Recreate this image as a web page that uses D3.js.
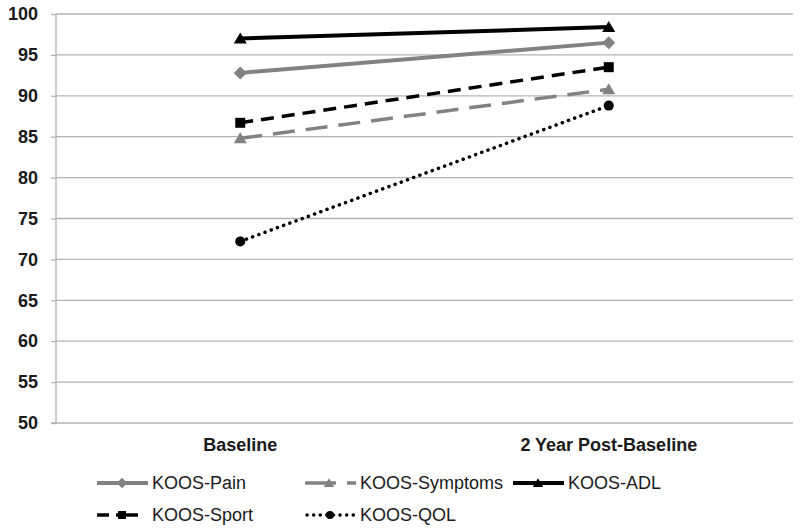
<!DOCTYPE html>
<html><head><meta charset="utf-8">
<script src="https://cdn.jsdelivr.net/npm/d3@7"></script>
<style>body{margin:0;background:#fff}svg{display:block}</style>
</head><body>
<svg id="c" width="800" height="529"></svg>
<script>
const categories = ["Baseline", "2 Year Post-Baseline"];
const seriesNames = ["KOOS-Pain", "KOOS-Symptoms", "KOOS-ADL", "KOOS-Sport", "KOOS-QOL"];
const painValues = [92.8, 96.5];
const symptomsValues = [84.8, 90.8];
const adlValues = [97.0, 98.4];
const sportValues = [86.7, 93.5];
const qolValues = [72.2, 88.8];
const yTicks = [50, 55, 60, 65, 70, 75, 80, 85, 90, 95, 100];

(function () {
const styles = {
  "KOOS-Pain": {color: "#828282", dash: null, width: 4, marker: "diamond", cap: "butt"},
  "KOOS-Symptoms": {color: "#828282", dash: "22,11", width: 3.5, marker: "triangle", cap: "butt"},
  "KOOS-ADL": {color: "#000", dash: null, width: 4, marker: "triangle", cap: "butt"},
  "KOOS-Sport": {color: "#000", dash: "13,8", width: 3.5, marker: "square", cap: "butt"},
  "KOOS-QOL": {color: "#000", dash: "0.1,6.5", width: 3.5, marker: "circle", cap: "round"}
};
const seriesData = {
  "KOOS-Pain": painValues, "KOOS-Symptoms": symptomsValues, "KOOS-ADL": adlValues,
  "KOOS-Sport": sportValues, "KOOS-QOL": qolValues
};
const font = "Liberation Sans, Arial, sans-serif";

const svg = d3.select("#c");
const pLeft = 56, pRight = 793, pTop = 14, pBottom = 423;
const x = d3.scaleBand().domain(categories).range([pLeft, pRight]);
const y = d3.scaleLinear().domain([50, 100]).range([pBottom, pTop]);

svg.append("g").selectAll("line").data(yTicks).join("line")
  .attr("x1", pLeft).attr("x2", pRight)
  .attr("y1", d => y(d)).attr("y2", d => y(d))
  .attr("stroke", "#b3b3b3").attr("stroke-width", 1.3);

const yAxis = d3.axisLeft(y).tickValues(yTicks).tickSize(5).tickPadding(13);
const ga = svg.append("g").attr("transform", `translate(${pLeft},0)`).call(yAxis);
ga.select(".domain").attr("stroke", "#b3b3b3").attr("stroke-width", 1.3).attr("d", `M-5,${pBottom}H0V${pTop}`);
ga.selectAll(".tick line").attr("stroke", "#b3b3b3").attr("stroke-width", 1.3);
ga.selectAll(".tick text").attr("font-family", font)
  .attr("font-size", 18).attr("font-weight", "bold").attr("fill", "#1a1a1a");

const xAxis = d3.axisBottom(x).tickSize(0).tickPadding(15);
const gx = svg.append("g").attr("transform", `translate(0,${pBottom})`).call(xAxis);
gx.select(".domain").remove();
gx.selectAll(".tick text").attr("font-family", font)
  .attr("font-size", 18).attr("font-weight", "bold").attr("fill", "#1a1a1a");

function markerPath(type, k) {
  const p = d3.path();
  if (type === "diamond") {
    const r = 6.5 * k;
    p.moveTo(0, -r); p.lineTo(r, 0); p.lineTo(0, r); p.lineTo(-r, 0); p.closePath();
  } else if (type === "triangle") {
    const w = 6.5 * k, h = 11 * k;
    p.moveTo(0, -h * 0.55); p.lineTo(w, h * 0.45); p.lineTo(-w, h * 0.45); p.closePath();
  } else if (type === "square") {
    const s = 5 * k;
    p.rect(-s, -s, 2 * s, 2 * s);
  } else {
    p.arc(0, 0, 5 * k, 0, 2 * Math.PI);
  }
  return p.toString();
}

const line = d3.line().x((d, i) => x(categories[i]) + x.bandwidth() / 2).y(d => y(d));

const drawOrder = ["KOOS-QOL", "KOOS-Symptoms", "KOOS-Sport", "KOOS-Pain", "KOOS-ADL"];
drawOrder.forEach(name => {
  const s = styles[name], vals = seriesData[name];
  svg.append("path").datum(vals).attr("d", line).attr("fill", "none")
    .attr("stroke", s.color).attr("stroke-width", s.width)
    .attr("stroke-dasharray", s.dash).attr("stroke-linecap", s.cap);
  svg.append("g").selectAll("path").data(vals).join("path")
    .attr("d", markerPath(s.marker, 1))
    .attr("transform", (d, i) => `translate(${x(categories[i]) + x.bandwidth() / 2},${y(d)})`)
    .attr("fill", s.color);
});

// legend: each entry = sample line segments (relative to item start) + marker
const legendItems = [
  {name: "KOOS-Pain", col: 0, row: 0, segs: [[0, 51]]},
  {name: "KOOS-Symptoms", col: 1, row: 0, segs: [[0, 31], [42, 51]]},
  {name: "KOOS-ADL", col: 2, row: 0, segs: [[0, 51]]},
  {name: "KOOS-Sport", col: 0, row: 1, segs: [[0, 12], [19, 41]]},
  {name: "KOOS-QOL", col: 1, row: 1, segs: null}
];
const legX0 = 97, legDX = 208, legY0 = 483, legDY = 32;
const lg = svg.append("g");
legendItems.forEach(it => {
  const s = styles[it.name];
  const lx = legX0 + it.col * legDX, ly = legY0 + it.row * legDY;
  const g = lg.append("g").attr("transform", `translate(${lx},${ly})`);
  if (it.segs) {
    it.segs.forEach(sg => g.append("line").attr("x1", sg[0]).attr("x2", sg[1]).attr("y1", 0).attr("y2", 0)
      .attr("stroke", s.color).attr("stroke-width", s.width));
  } else {
    g.append("line").attr("x1", 2).attr("x2", 51).attr("y1", 0).attr("y2", 0)
      .attr("stroke", s.color).attr("stroke-width", s.width)
      .attr("stroke-dasharray", s.dash).attr("stroke-linecap", s.cap);
  }
  g.append("path").attr("d", markerPath(s.marker, 0.8))
    .attr("transform", `translate(${it.name === "KOOS-Symptoms" ? 24 : 25},0)`).attr("fill", s.color);
  g.append("text").attr("x", 55).attr("y", 0).attr("dy", "0.36em")
    .attr("font-family", font).attr("font-size", 18)
    .attr("fill", "#1a1a1a").text(it.name);
});
})();
</script>
</body></html>
